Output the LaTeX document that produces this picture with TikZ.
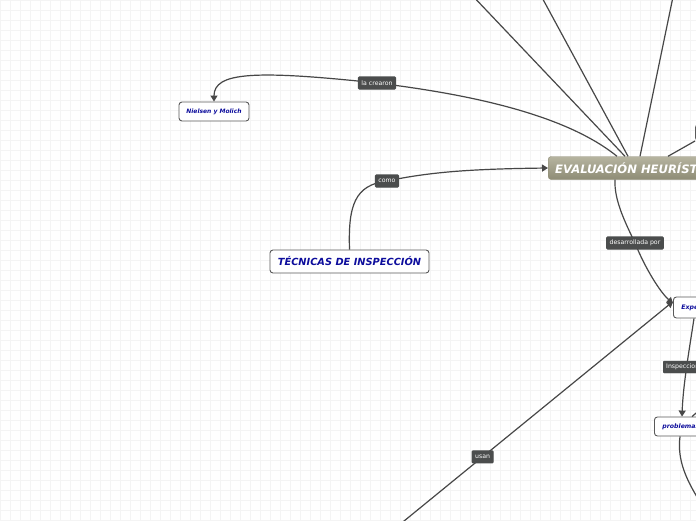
\documentclass[tikz,border=0pt]{standalone}
\usepackage{fontspec}
\setsansfont{DejaVu Sans}
\usetikzlibrary{positioning,arrows.meta,calc}
\definecolor{emlinea}{HTML}{474747}
\definecolor{emborde}{HTML}{595959}
\definecolor{emazul}{HTML}{0D0D9C}
\definecolor{emgrisrotulo}{HTML}{4B4D4D}
\definecolor{emolivaclaro}{HTML}{B6B4A0}
\definecolor{emolivaoscuro}{HTML}{8E8C75}
\definecolor{emrejilla}{HTML}{F4F4F4}
\tikzset{
  emcentral/.style={draw=emolivaoscuro, top color=emolivaclaro, bottom color=emolivaoscuro,
                  rounded corners=3pt, text=white, anchor=west, inner xsep=7pt, minimum height=23pt,
                  font=\sffamily\bfseries\itshape\fontsize{11.6}{13}\selectfont},
  emnodo/.style={draw=emborde, fill=white, rounded corners=3pt, text=emazul, line width=0.9pt,
                  font=\sffamily\bfseries\itshape},
  emrotulo/.style={draw=emgrisrotulo, fill=emgrisrotulo, text=white, rounded corners=1pt,
                  inner xsep=3pt, inner ysep=2pt, minimum height=12pt,
                  font=\sffamily\fontsize{6.2}{7}\selectfont},
  emseta/.style={-{Triangle[length=6pt,width=7pt]}, draw=emlinea, line width=1.2pt},
  emlinea/.style={draw=emlinea, line width=1.2pt},
}

\begin{document}
\begin{tikzpicture}[x=1pt, y=-1pt]
    \useasboundingbox (0,0) rectangle (696,520);
    \fill[white] (0,0) rectangle (696,520);
    \draw[emrejilla, line width=0.4pt, step=10pt] (0,0) grid (696,520);
    % ---------------- nodos ----------------
    \node[emcentral] (eval) at (548,168) {EVALUACIÓN HEURÍSTICA};
    \node[emnodo, font=\sffamily\bfseries\itshape\fontsize{6}{7}\selectfont, minimum width=70pt, minimum height=19pt] (nielsen) at (214,111.5) {Nielsen y Molich};
    \node[emnodo, font=\sffamily\bfseries\itshape\fontsize{9.8}{11}\selectfont, minimum width=159pt, minimum height=23pt] (tecnicas) at (349.5,261.5) {TÉCNICAS DE INSPECCIÓN};
    \node[emnodo, font=\sffamily\bfseries\itshape\fontsize{6.2}{7}\selectfont, anchor=west, inner xsep=8pt, minimum height=21pt] (expertos) at (673,307.5) {Expertos};
    \node[emnodo, font=\sffamily\bfseries\itshape\fontsize{6.2}{7}\selectfont, anchor=west, inner xsep=8pt, minimum height=19pt] (problemas) at (654,426.5) {problemas};
    \node[emnodo, anchor=south west, minimum width=40pt, minimum height=16pt] (derecha) at (695,141) {};
    \coordinate (arriba1) at (469,-8);
    \coordinate (arriba2) at (539,-8);
    \coordinate (arriba3) at (674,-8);
    \coordinate (abajo) at (393,530);
    \coordinate (abajoder) at (702,505);
    \coordinate (derecha2) at (702,408);
    % ---------------- conectores ----------------
    \draw[emlinea] ($(eval.north west)+(77,0)$) -- (arriba1);
    \draw[emlinea] ($(eval.north west)+(80,0)$) -- (arriba2);
    \draw[emlinea] ($(eval.north west)+(92,0)$) -- (arriba3);
    \draw[emlinea] ($(eval.north west)+(120,0)$) -- (derecha.south west);
    \draw[emseta] ($(eval.north west)+(69,0)$) .. controls (560,110) and (450,92) .. (377,83) node[emrotulo] (crearon) {la crearon} .. controls (255,70) and (214,72) .. (nielsen.north);
    \draw[emseta] (tecnicas.north) .. controls (348,205) and (355,185) .. (387,181) node[emrotulo] (como) {como} .. controls (430,172) and (470,169) .. (eval.west);
    \draw[emseta] ($(eval.south west)+(67,0)$) .. controls (614,200) and (625,222) .. (635,243) node[emrotulo] (desarrollada) {desarrollada por} .. controls (645,268) and (660,292) .. ($(expertos.west)+(0,-4)$);
    \draw[emseta] (abajo) -- node[emrotulo, pos=0.32] (usan) {usan} ($(expertos.west)+(0,-6)$);
    \draw[emseta] ($(expertos.south west)+(21,0)$) .. controls (690,345) and (683,385) .. ($(problemas.north west)+(28,0)$);
    \node[emrotulo, anchor=west] (inspeccion) at (663,367) {Inspeccionan};
    \draw[emlinea] (derecha2) -- ($(problemas.north west)+(38,0)$);
    \draw[emlinea] ($(problemas.south west)+(26,0)$) .. controls (677,460) and (686,480) .. (abajoder);
\end{tikzpicture}
\end{document}
